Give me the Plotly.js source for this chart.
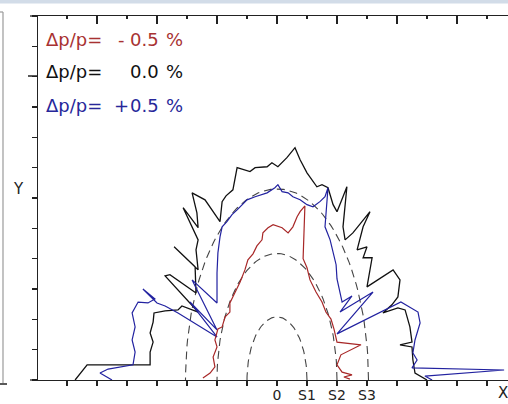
<!DOCTYPE html>
<html>
<head>
<meta charset="utf-8">
<script src="https://cdn.plot.ly/plotly-3.0.1.min.js"></script>
<style>html,body{margin:0;padding:0;background:#fff;}#plot{width:508px;height:404px;}</style>
</head>
<body>
<div id="plot"></div>
<script>
// ---- data ----
// Δp/p = 0.0 %  (black)
const blackX = [-6.73,-6.33,-4.23,-4.23,-4.13,-4.23,-4.13,-4.10,-3.73,-3.30,-3.17,-2.63,-3.73,-3.57,-2.70,-2.73,-3.43,-2.63,-2.70,-2.63,-3.13,-2.63,-2.67,-2.83,-2.40,-2.13,-1.90,-1.83,-1.70,-1.47,-1.33,-0.90,-0.73,-0.33,-0.17,0.03,0.33,0.60,0.77,1.00,1.33,1.50,1.70,1.87,2.00,2.20,2.33,2.20,2.27,2.53,3.10,2.87,2.67,3.00,2.87,3.17,3.00,3.87,4.10,4.03,3.83,3.53,4.03,4.27,4.43,4.50,4.10,4.50,4.53,4.60,5.00];
const blackY = [0.00,0.50,0.50,0.92,1.25,1.55,1.91,2.21,2.28,2.31,2.44,2.24,3.43,3.47,2.87,3.73,4.39,3.63,4.29,4.62,5.68,5.02,5.51,6.17,5.94,5.55,5.22,5.88,6.07,6.27,7.00,6.87,7.00,7.03,7.16,7.03,7.33,7.66,7.26,6.83,6.37,6.44,6.34,5.78,5.55,6.04,6.37,5.05,4.62,4.85,5.55,5.05,4.29,4.39,4.03,4.03,3.07,3.63,3.30,2.74,2.48,2.21,2.38,2.31,1.75,1.25,1.16,1.09,0.66,0.23,0.00];
// Δp/p = +0.5 %  (blue)
const blueX = [-5.50,-5.90,-5.63,-4.80,-4.73,-4.83,-4.73,-4.83,-4.63,-4.30,-4.07,-4.47,-4.00,-3.73,-3.30,-2.00,-2.90,-2.00,-2.83,-2.00,-2.00,-1.97,-1.90,-1.83,-1.67,-1.50,-1.33,-1.17,-1.00,-0.73,-0.33,-0.07,0.03,0.17,0.37,0.53,0.77,1.00,1.20,1.43,1.60,1.70,1.67,1.60,1.77,1.87,1.97,2.00,2.10,2.17,2.50,2.10,3.20,2.00,4.13,4.70,4.77,4.60,4.53,4.67,4.50,7.57,4.93,5.17];
const blueY = [0.00,0.23,0.36,0.50,0.92,1.32,1.75,2.21,2.57,2.54,2.67,3.00,2.54,2.44,2.21,1.42,2.57,1.65,3.30,2.54,3.53,4.19,4.72,5.05,5.22,5.45,5.61,5.78,5.94,6.04,6.17,6.34,6.44,6.21,6.17,6.04,5.94,5.78,5.71,5.88,6.04,6.34,5.84,5.05,4.62,4.22,3.80,3.33,2.90,2.57,2.77,2.24,2.90,1.52,2.57,2.24,1.88,1.32,0.89,0.66,0.40,0.33,0.13,0.00];
// Δp/p = -0.5 %  (red)
const redX = [-2.47,-2.23,-2.07,-2.13,-2.00,-2.07,-1.97,-1.83,-1.73,-1.57,-1.57,-1.40,-1.23,-1.07,-0.97,-0.80,-0.67,-0.50,-0.47,-0.30,-0.13,0.17,0.37,0.53,0.67,0.77,0.93,0.87,1.00,1.10,1.30,1.50,1.63,1.80,1.90,2.00,2.80,2.13,2.00,2.17,2.50,2.23,2.43];
const redY = [0.07,0.23,0.43,0.76,1.09,1.32,1.68,1.75,2.08,2.24,2.54,2.90,3.23,3.63,3.96,4.16,4.42,4.62,4.85,5.02,5.12,5.02,4.85,5.05,5.38,5.55,5.74,4.00,3.70,3.30,2.90,2.57,2.24,2.01,1.68,1.25,1.16,0.83,0.50,0.26,0.17,0.10,0.03];
// dashed reference half-ellipses
const ellHalfWidth = [1, 2, 3.05];
const ellHeight = [2.08, 4.17, 6.3];
// tick labels
const xTickVals = [-7,-6,-5,-4,-3,-2,-1,0,1,2,3,4,5,6,7];
const xTickText = ['','','','','','','','0','S1','S2','S3','','','',''];
const yTickVals = [0,1,2,3,4,5,6,7,8,9,10,11,12];
const legendRows = [
  {name:'Δp/p=', sign:'-', val:'0.5', color:'#a83232'},
  {name:'Δp/p=', sign:'',  val:'0.0', color:'#111111'},
  {name:'Δp/p=', sign:'+', val:'0.5', color:'#27279a'}
];

// ---- build ----
const FONT = 'DejaVu Sans, Verdana, sans-serif';
const traces = [];
ellHalfWidth.forEach((r, i) => {
  const xs = [], ys = [];
  const n = 90;
  for (let k = 0; k <= n; k++) {
    const t = Math.PI * k / n;
    xs.push(r * Math.cos(t));
    ys.push(ellHeight[i] * Math.sin(t));
  }
  traces.push({x: xs, y: ys, mode: 'lines', line: {color: '#444', width: 1.1, dash: '8px,5px'}, hoverinfo: 'skip', showlegend: false});
});
traces.push({x: blackX, y: blackY, mode: 'lines', line: {color: '#111', width: 1.3}, showlegend: false});
traces.push({x: blueX, y: blueY, mode: 'lines', line: {color: '#2222a0', width: 1.2}, showlegend: false});
traces.push({x: redX, y: redY, mode: 'lines', line: {color: '#a82828', width: 1.2}, showlegend: false});
traces.push({x: [], y: [], xaxis: 'x2', yaxis: 'y', showlegend: false});

// pixel -> paper helpers (plot area 38..508 x 16..380)
const px = v => (v - 38) / 470;
const py = v => (380 - v) / 364;

const annotations = [];
const rowY = [39, 71, 105];
legendRows.forEach((r, i) => {
  const f = {family: FONT, size: 18, color: r.color};
  annotations.push({xref:'paper', yref:'paper', x: px(44), y: py(rowY[i]), xanchor:'left', yanchor:'middle', text: r.name, showarrow:false, font: f});
  if (r.sign) annotations.push({xref:'paper', yref:'paper', x: px(121), y: py(rowY[i]), xanchor:'center', yanchor:'middle', text: r.sign, showarrow:false, font: f});
  annotations.push({xref:'paper', yref:'paper', x: px(144), y: py(rowY[i]), xanchor:'center', yanchor:'middle', text: r.val, showarrow:false, font: f});
  annotations.push({xref:'paper', yref:'paper', x: px(174), y: py(rowY[i]), xanchor:'center', yanchor:'middle', text: '%', showarrow:false, font: f});
});
annotations.push({xref:'paper', yref:'paper', x: px(503), y: py(393), xanchor:'center', yanchor:'middle', text:'X', showarrow:false, font:{family:FONT, size:15, color:'#222'}});
annotations.push({xref:'paper', yref:'paper', x: px(18), y: py(189), xanchor:'center', yanchor:'middle', text:'Y', showarrow:false, font:{family:FONT, size:15, color:'#222'}});

const shapes = [
  {type:'rect', xref:'paper', yref:'paper', x0: px(-5), x1: px(515), y0: py(3.5), y1: py(-2), fillcolor:'#d2dce8', line:{width:0}, layer:'below'},
  {type:'line', xref:'paper', yref:'paper', x0: px(3), x1: px(3), y0: py(12), y1: py(383), line:{color:'#9a9a9a', width:1.2}},
  {type:'line', xref:'paper', yref:'paper', x0: px(0), x1: px(3), y0: py(12), y1: py(12), line:{color:'#9a9a9a', width:1.2}},
  {type:'line', xref:'paper', yref:'paper', x0: px(0), x1: px(7), y0: py(384), y1: py(384), line:{color:'#222', width:1.5}},
  {type:'line', xref:'paper', yref:'paper', x0: px(30), x1: px(38), y0: 0, y1: 0, line:{color:'#222', width:1.3}},
  {type:'line', xref:'paper', yref:'paper', x0: px(30), x1: px(38), y0: 1, y1: 1, line:{color:'#222', width:1.3}},
  {type:'line', xref:'paper', yref:'paper', x0: px(28), x1: px(38), y0: py(76), y1: py(76), line:{color:'#222', width:1.5}}
];

const xr = [-7.967, 7.7];
const layout = {
  width: 508, height: 404,
  margin: {l: 38, r: 0, t: 16, b: 24, pad: 0},
  paper_bgcolor: '#fff', plot_bgcolor: '#fff',
  showlegend: false,
  xaxis: {range: xr, tickmode:'array', tickvals: xTickVals, ticktext: xTickText, ticks:'outside', ticklen: 5, tickwidth: 1.2, tickcolor:'#222',
          showline: true, linecolor:'#222', linewidth: 1.3, showgrid:false, zeroline:false, ticklabelstandoff: -3,
          tickfont:{family: FONT, size: 14, color:'#222'}, fixedrange:true},
  xaxis2: {range: xr, overlaying:'x', side:'top', anchor:'y', tick0: 0, dtick: 2, ticks:'inside', ticklen: 8, tickwidth: 1.2, tickcolor:'#222',
           minor:{tick0: 0, dtick: 1, ticks:'inside', ticklen: 3, tickwidth: 1.2, tickcolor:'#222'},
           showticklabels:false, showline:true, linecolor:'#222', linewidth:1.3, showgrid:false, zeroline:false},
  yaxis: {range: [0, 12], tickmode:'array', tickvals: yTickVals, ticks:'outside', ticklen: 5, tickwidth: 1.2, tickcolor:'#222',
          showticklabels:false, showline:true, linecolor:'#222', linewidth:1.5, showgrid:false, zeroline:false},
  annotations: annotations,
  shapes: shapes
};
Plotly.newPlot('plot', traces, layout, {staticPlot: true, displayModeBar: false});
</script>
</body>
</html>
